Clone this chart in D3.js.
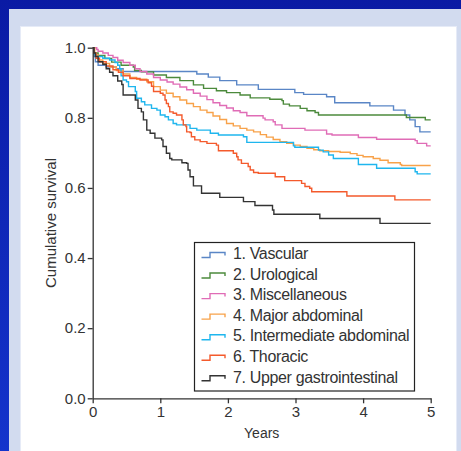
<!DOCTYPE html>
<html>
<head>
<meta charset="utf-8">
<script src="https://cdn.jsdelivr.net/npm/d3@7"></script>
<style>
  body { margin: 0; background: #0b1ca6; }
  svg { display: block; font-family: "Liberation Sans", Arial, sans-serif; }
</style>
</head>
<body>
<svg id="chart" width="461" height="451"></svg>
<script>
// Kaplan-Meier curves, [years, cumulative survival]
const vascular = [[0, 1], [0.02, 0.975], [0.04, 0.96], [0.08, 0.95], [0.2, 0.945], [0.35, 0.94], [0.45, 0.932],
    [1.54, 0.925], [1.71, 0.916], [1.88, 0.906], [2.13, 0.894], [2.45, 0.881], [2.99, 0.872], [3.12, 0.867],
    [3.46, 0.86], [3.58, 0.843], [4.1, 0.834], [4.45, 0.822], [4.62, 0.808], [4.69, 0.794], [4.77, 0.775], [4.84, 0.76]];
const urological = [[0, 1], [0.02, 0.985], [0.08, 0.978], [0.18, 0.969], [0.28, 0.959], [0.42, 0.95], [0.6, 0.945],
    [0.62, 0.935], [0.72, 0.931], [0.9, 0.922], [1.09, 0.915], [1.29, 0.906], [1.49, 0.894], [1.64, 0.884],
    [1.83, 0.877], [1.98, 0.872], [2.18, 0.865], [2.33, 0.857], [2.62, 0.853], [2.8, 0.849], [2.82, 0.839],
    [2.91, 0.834], [3.07, 0.827], [3.17, 0.82], [3.29, 0.815], [3.34, 0.808], [4.64, 0.801], [4.92, 0.794]];
const miscellaneous = [[0, 1], [0.06, 0.995], [0.08, 0.99], [0.15, 0.985], [0.23, 0.978], [0.3, 0.972], [0.37, 0.964],
    [0.45, 0.958], [0.55, 0.95], [0.63, 0.94], [0.7, 0.932], [0.8, 0.925], [0.9, 0.915], [1.0, 0.908], [1.1, 0.902],
    [1.19, 0.896], [1.29, 0.888], [1.39, 0.88], [1.49, 0.87], [1.59, 0.862], [1.69, 0.852], [1.78, 0.843],
    [1.88, 0.835], [1.98, 0.828], [2.08, 0.82], [2.18, 0.815], [2.28, 0.806], [2.52, 0.799], [2.55, 0.794],
    [2.67, 0.789], [2.7, 0.78], [2.8, 0.77], [3.14, 0.765], [3.46, 0.754], [3.54, 0.751], [3.93, 0.744],
    [4.2, 0.739], [4.77, 0.735], [4.8, 0.727], [4.94, 0.72]];
const majorAbdominal = [[0, 1], [0.03, 0.98], [0.08, 0.965], [0.15, 0.955], [0.25, 0.945], [0.35, 0.935], [0.45, 0.925],
    [0.55, 0.915], [0.65, 0.91], [0.8, 0.903], [0.9, 0.889], [1.0, 0.879], [1.09, 0.87], [1.19, 0.86], [1.29, 0.851],
    [1.39, 0.841], [1.49, 0.832], [1.59, 0.822], [1.69, 0.815], [1.78, 0.805], [1.88, 0.795], [1.98, 0.784],
    [2.08, 0.777], [2.18, 0.77], [2.28, 0.765], [2.38, 0.76], [2.48, 0.752], [2.57, 0.745], [2.67, 0.738],
    [2.77, 0.732], [2.87, 0.727], [2.97, 0.722], [3.07, 0.718], [3.17, 0.713], [3.27, 0.709], [3.36, 0.706],
    [3.49, 0.704], [3.66, 0.702], [3.81, 0.698], [3.91, 0.693], [4.0, 0.689], [4.15, 0.684], [4.25, 0.679],
    [4.37, 0.672], [4.55, 0.667], [4.57, 0.664]];
const intermediateAbdominal = [[0, 1], [0.02, 0.98], [0.05, 0.975], [0.15, 0.97], [0.25, 0.965], [0.33, 0.958],
    [0.37, 0.95], [0.4, 0.94], [0.42, 0.92], [0.45, 0.908], [0.5, 0.903], [0.53, 0.889], [0.63, 0.875], [0.65, 0.856],
    [0.72, 0.846], [0.77, 0.837], [0.87, 0.827], [0.95, 0.822], [1.0, 0.808], [1.07, 0.803], [1.12, 0.794],
    [1.19, 0.784], [1.24, 0.78], [1.44, 0.77], [1.54, 0.765], [1.74, 0.756], [1.86, 0.751], [2.23, 0.746],
    [2.28, 0.73], [2.97, 0.72], [2.99, 0.716], [3.34, 0.708], [3.41, 0.703], [3.49, 0.694], [3.56, 0.684],
    [3.93, 0.667], [4.2, 0.656], [4.77, 0.646], [4.8, 0.64]];
const thoracic = [[0, 1], [0.02, 0.985], [0.05, 0.97], [0.1, 0.96], [0.2, 0.948], [0.3, 0.937], [0.38, 0.93],
    [0.45, 0.92], [0.55, 0.912], [0.7, 0.908], [0.82, 0.9], [0.87, 0.89], [0.9, 0.875], [1.0, 0.87], [1.04, 0.865],
    [1.07, 0.851], [1.09, 0.841], [1.12, 0.832], [1.14, 0.817], [1.19, 0.813], [1.24, 0.808], [1.32, 0.794],
    [1.34, 0.78], [1.38, 0.775], [1.39, 0.76], [1.44, 0.758], [1.46, 0.746], [1.51, 0.737], [1.59, 0.732],
    [1.69, 0.727], [1.83, 0.722], [1.86, 0.706], [2.08, 0.699], [2.13, 0.689], [2.15, 0.68], [2.2, 0.67],
    [2.3, 0.661], [2.33, 0.651], [2.38, 0.644], [2.45, 0.642], [2.7, 0.632], [2.84, 0.621], [3.09, 0.613],
    [3.14, 0.604], [3.21, 0.599], [3.24, 0.589], [3.76, 0.577], [4.47, 0.566]];
const upperGastro = [[0, 1], [0.02, 0.985], [0.04, 0.975], [0.08, 0.96], [0.15, 0.953], [0.2, 0.94], [0.25, 0.93],
    [0.3, 0.92], [0.37, 0.905], [0.43, 0.895], [0.45, 0.865], [0.63, 0.851], [0.67, 0.827], [0.72, 0.817],
    [0.75, 0.794], [0.8, 0.765], [0.85, 0.756], [0.92, 0.742], [1.02, 0.737], [1.04, 0.718], [1.09, 0.699],
    [1.14, 0.684], [1.17, 0.68], [1.32, 0.672], [1.39, 0.67], [1.41, 0.651], [1.44, 0.632], [1.49, 0.606],
    [1.61, 0.585], [1.88, 0.573], [2.23, 0.561], [2.4, 0.55], [2.66, 0.537], [2.68, 0.525], [3.36, 0.513],
    [4.25, 0.499]];

const seriesNames = ['1. Vascular', '2. Urological', '3. Miscellaneous', '4. Major abdominal',
    '5. Intermediate abdominal', '6. Thoracic', '7. Upper gastrointestinal'];
const seriesData = [vascular, urological, miscellaneous, majorAbdominal, intermediateAbdominal, thoracic, upperGastro];
const seriesColors = ['#5a86c6', '#4c8a3c', '#e06cb6', '#f8a24a', '#1fb6ee', '#f45a2c', '#333333'];

const xTicks = [0, 1, 2, 3, 4, 5];
const yTicks = [0, 0.2, 0.4, 0.6, 0.8, 1.0];

const svg = d3.select('#chart');
const W = 461, H = 451;

// frame: blue border, lavender band, white panel
const defs = svg.append('defs');
const grad = defs.append('linearGradient').attr('id', 'frame').attr('x1', 0).attr('y1', 0).attr('x2', 0).attr('y2', 1);
grad.append('stop').attr('offset', '0%').attr('stop-color', '#0a1aa4');
grad.append('stop').attr('offset', '100%').attr('stop-color', '#1434cc');
svg.append('rect').attr('width', W).attr('height', H).attr('fill', 'url(#frame)');
svg.append('rect').attr('x', 9).attr('y', 9).attr('width', W - 9).attr('height', H - 9).attr('fill', '#d2dbef');
svg.append('rect').attr('x', 20.5).attr('y', 26.5).attr('width', 436).attr('height', H)
    .attr('fill', '#fff').attr('stroke', '#e6ebf7');

const margin = { left: 92.7, right: 430.7, top: 47.7, bottom: 398.3 };
const x = d3.scaleLinear().domain([0, 5]).range([margin.left, margin.right]);
const y = d3.scaleLinear().domain([0, 1]).range([margin.bottom, margin.top]);

// curves
const line = d3.line().x(d => x(d[0])).y(d => y(d[1])).curve(d3.curveStepAfter);
seriesData.forEach((s, i) => {
    const pts = s.concat([[5, s[s.length - 1][1]]]);
    svg.append('path')
        .attr('d', line(pts))
        .attr('fill', 'none')
        .attr('stroke', seriesColors[i])
        .attr('stroke-width', 1.4);
});

// axes
const yAxis = svg.append('g')
    .attr('transform', `translate(${margin.left},0)`)
    .call(d3.axisLeft(y).tickValues(yTicks).tickFormat(d3.format('.1f')).tickSize(5).tickSizeOuter(0).tickPadding(2));
const xAxis = svg.append('g')
    .attr('transform', `translate(0,${margin.bottom})`)
    .call(d3.axisBottom(x).tickValues(xTicks).tickFormat(d3.format('d')).tickSize(5).tickSizeOuter(0).tickPadding(3));
[yAxis, xAxis].forEach(a => {
    a.select('.domain').attr('stroke', '#333').attr('stroke-width', 1.3);
    a.selectAll('line').attr('stroke', '#333').attr('stroke-width', 1.3);
    a.selectAll('text').attr('fill', '#333').style('font-size', '15px').style('font-family', '"Liberation Sans", Arial, sans-serif');
});

svg.append('text')
    .attr('x', (margin.left + margin.right) / 2)
    .attr('y', 437.5)
    .attr('text-anchor', 'middle')
    .attr('fill', '#333')
    .style('font-size', '14px')
    .text('Years');

svg.append('text')
    .attr('transform', 'translate(56,223) rotate(-90)')
    .attr('text-anchor', 'middle')
    .attr('fill', '#333')
    .style('font-size', '15px')
    .text('Cumulative survival');

// legend
const legend = svg.append('g');
legend.append('rect')
    .attr('x', 194.5).attr('y', 242.5).attr('width', 220).attr('height', 148.5)
    .attr('fill', '#fff').attr('stroke', '#222').attr('stroke-width', 1.2);

seriesNames.forEach((name, i) => {
    const cy = 253.5 + i * 20.55;
    legend.append('path')
        .attr('d', `M201.5,${cy + 4}H210V${cy - 1}H225V${cy + 2}`)
        .attr('fill', 'none')
        .attr('stroke', seriesColors[i])
        .attr('stroke-width', 1.4);
    legend.append('text')
        .attr('x', 233)
        .attr('y', cy)
        .attr('dy', '0.36em')
        .attr('fill', '#333')
        .style('font-size', '16px')
        .style('letter-spacing', '-0.35px')
        .text(name);
});
</script>
</body>
</html>
